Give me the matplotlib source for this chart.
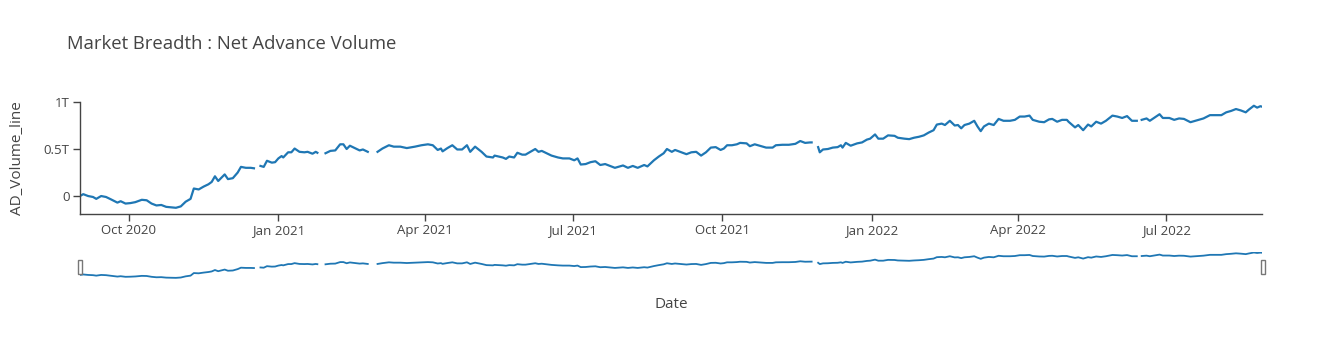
import numpy as np
import pandas as pd
import matplotlib
matplotlib.use("Agg")
import matplotlib.pyplot as plt
import matplotlib.dates as mdates
from matplotlib.patches import Rectangle
from matplotlib.ticker import FuncFormatter

plt.rcParams['font.family'] = ['Open Sans', 'DejaVu Sans']

# values, in trillions (nan = missing day -> gap in line)
dates = [
    '2020-09-01', '2020-09-03', '2020-09-06', '2020-09-09', '2020-09-11', '2020-09-14',
    '2020-09-17', '2020-09-20', '2020-09-24', '2020-09-26', '2020-09-29', '2020-10-02',
    '2020-10-05', '2020-10-09', '2020-10-12', '2020-10-15', '2020-10-18', '2020-10-21',
    '2020-10-24', '2020-10-27', '2020-10-30', '2020-11-02', '2020-11-05', '2020-11-08',
    '2020-11-10', '2020-11-13', '2020-11-16', '2020-11-19', '2020-11-21', '2020-11-23',
    '2020-11-25', '2020-11-29', '2020-12-01', '2020-12-04', '2020-12-07', '2020-12-09',
    '2020-12-12', '2020-12-15', '2020-12-17', '2020-12-19', '2020-12-21', '2020-12-23',
    '2020-12-25', '2020-12-28', '2020-12-30', '2021-01-01', '2021-01-03', '2021-01-04',
    '2021-01-07', '2021-01-09', '2021-01-11', '2021-01-14', '2021-01-17', '2021-01-19',
    '2021-01-22', '2021-01-24', '2021-01-25', '2021-01-28', '2021-01-30', '2021-02-02',
    '2021-02-05', '2021-02-08', '2021-02-10', '2021-02-12', '2021-02-14', '2021-02-17',
    '2021-02-20', '2021-02-22', '2021-02-25', '2021-03-01', '2021-03-03', '2021-03-06',
    '2021-03-10', '2021-03-13', '2021-03-17', '2021-03-21', '2021-03-26', '2021-03-30',
    '2021-04-03', '2021-04-06', '2021-04-09', '2021-04-11', '2021-04-12', '2021-04-15',
    '2021-04-18', '2021-04-21', '2021-04-24', '2021-04-27', '2021-04-29', '2021-05-02',
    '2021-05-06', '2021-05-09', '2021-05-13', '2021-05-14', '2021-05-19', '2021-05-21',
    '2021-05-23', '2021-05-26', '2021-05-28', '2021-05-31', '2021-06-02', '2021-06-05',
    '2021-06-08', '2021-06-10', '2021-06-12', '2021-06-15', '2021-06-18', '2021-06-22',
    '2021-06-25', '2021-06-29', '2021-07-02', '2021-07-04', '2021-07-06', '2021-07-09',
    '2021-07-12', '2021-07-15', '2021-07-18', '2021-07-21', '2021-07-24', '2021-07-27',
    '2021-08-01', '2021-08-04', '2021-08-07', '2021-08-10', '2021-08-14', '2021-08-16',
    '2021-08-20', '2021-08-23', '2021-08-26', '2021-08-28', '2021-08-31', '2021-09-02',
    '2021-09-06', '2021-09-09', '2021-09-12', '2021-09-15', '2021-09-18', '2021-09-21',
    '2021-09-24', '2021-09-27', '2021-09-30', '2021-10-02', '2021-10-04', '2021-10-07',
    '2021-10-10', '2021-10-12', '2021-10-16', '2021-10-18', '2021-10-21', '2021-10-24',
    '2021-10-28', '2021-11-01', '2021-11-03', '2021-11-07', '2021-11-11', '2021-11-15',
    '2021-11-18', '2021-11-21', '2021-11-24', '2021-11-25', '2021-11-27', '2021-11-29',
    '2021-11-30', '2021-12-02', '2021-12-05', '2021-12-08', '2021-12-11', '2021-12-13',
    '2021-12-14', '2021-12-16', '2021-12-19', '2021-12-23', '2021-12-26', '2021-12-29',
    '2021-12-31', '2022-01-03', '2022-01-05', '2022-01-08', '2022-01-11', '2022-01-15',
    '2022-01-17', '2022-01-21', '2022-01-24', '2022-01-27', '2022-01-30', '2022-02-02',
    '2022-02-05', '2022-02-08', '2022-02-10', '2022-02-13', '2022-02-15', '2022-02-18',
    '2022-02-21', '2022-02-23', '2022-02-25', '2022-02-27', '2022-03-02', '2022-03-05',
    '2022-03-07', '2022-03-09', '2022-03-11', '2022-03-14', '2022-03-17', '2022-03-20',
    '2022-03-23', '2022-03-27', '2022-03-30', '2022-04-02', '2022-04-05', '2022-04-08',
    '2022-04-10', '2022-04-14', '2022-04-17', '2022-04-20', '2022-04-22', '2022-04-25',
    '2022-04-28', '2022-05-01', '2022-05-02', '2022-05-06', '2022-05-08', '2022-05-11',
    '2022-05-14', '2022-05-16', '2022-05-19', '2022-05-22', '2022-05-25', '2022-05-29',
    '2022-06-01', '2022-06-04', '2022-06-07', '2022-06-10', '2022-06-13', '2022-06-15',
    '2022-06-16', '2022-06-19', '2022-06-21', '2022-06-27', '2022-06-29', '2022-07-03',
    '2022-07-06', '2022-07-09', '2022-07-12', '2022-07-16', '2022-07-19', '2022-07-21',
    '2022-07-24', '2022-07-28', '2022-08-04', '2022-08-07', '2022-08-10', '2022-08-13',
    '2022-08-16', '2022-08-19', '2022-08-21', '2022-08-24', '2022-08-26', '2022-08-28',
    '2022-08-29',
]
ad_volume_line = [
    0.00, 0.02, 0.00, -0.01, -0.03, 0.00,
    -0.01, -0.035, -0.07, -0.055, -0.08, -0.075,
    -0.065, -0.04, -0.045, -0.08, -0.10, -0.095,
    -0.115, -0.12, -0.125, -0.11, -0.06, -0.03,
    0.08, 0.07, 0.10, 0.125, 0.15, 0.21,
    0.16, 0.23, 0.18, 0.19, 0.25, 0.31,
    0.30, 0.30, 0.295, np.nan, 0.32, 0.31,
    0.375, 0.355, 0.36, 0.40, 0.425, 0.41,
    0.465, 0.465, 0.505, 0.47, 0.465, 0.47,
    0.45, 0.47, 0.46, np.nan, 0.455, 0.48,
    0.485, 0.55, 0.55, 0.50, 0.535, 0.51,
    0.485, 0.495, 0.47, np.nan, 0.47, 0.505,
    0.54, 0.525, 0.525, 0.51, 0.525, 0.54,
    0.55, 0.54, 0.49, 0.505, 0.475, 0.51,
    0.54, 0.495, 0.495, 0.54, 0.47, 0.525,
    0.47, 0.42, 0.41, 0.43, 0.41, 0.395,
    0.42, 0.41, 0.46, 0.44, 0.44, 0.47,
    0.50, 0.47, 0.48, 0.455, 0.43, 0.41,
    0.40, 0.40, 0.38, 0.40, 0.335, 0.34,
    0.36, 0.37, 0.33, 0.34, 0.32, 0.30,
    0.325, 0.30, 0.32, 0.30, 0.33, 0.315,
    0.38, 0.42, 0.455, 0.50, 0.47, 0.49,
    0.465, 0.445, 0.465, 0.47, 0.43, 0.465,
    0.515, 0.52, 0.49, 0.505, 0.54, 0.54,
    0.55, 0.565, 0.56, 0.53, 0.55, 0.535,
    0.515, 0.515, 0.54, 0.545, 0.545, 0.555,
    0.585, 0.565, 0.57, 0.57, np.nan, 0.52,
    0.465, 0.495, 0.50, 0.515, 0.52, 0.54,
    0.515, 0.565, 0.535, 0.56, 0.57, 0.60,
    0.61, 0.655, 0.61, 0.61, 0.645, 0.64,
    0.62, 0.61, 0.605, 0.62, 0.63, 0.645,
    0.675, 0.70, 0.76, 0.77, 0.755, 0.80,
    0.75, 0.755, 0.72, 0.755, 0.77, 0.80,
    0.74, 0.69, 0.74, 0.77, 0.755, 0.82,
    0.80, 0.80, 0.81, 0.845, 0.845, 0.855,
    0.81, 0.79, 0.785, 0.815, 0.82, 0.79,
    0.81, 0.81, 0.79, 0.73, 0.755, 0.70,
    0.76, 0.74, 0.79, 0.77, 0.80, 0.855,
    0.845, 0.83, 0.85, 0.80, 0.80, np.nan,
    0.81, 0.825, 0.80, 0.87, 0.83, 0.83,
    0.81, 0.825, 0.82, 0.785, 0.80, 0.81,
    0.825, 0.86, 0.86, 0.89, 0.905, 0.925,
    0.91, 0.89, 0.92, 0.96, 0.94, 0.955,
    0.95,
]

x = pd.to_datetime(dates)
y = np.array(ad_volume_line, dtype=float) * 1e12

W, H = 1342, 360
fig = plt.figure(figsize=(W / 100, H / 100), dpi=100)

line_c = '#1f77b4'
txt_c = '#444444'

# main plot
ax = fig.add_axes([80 / W, (H - 214) / H, 1182 / W, 112.3 / H])
ax.plot(x, y, color=line_c, lw=1.6)
ax.set_xlim(x.min(), x.max())
ax.set_ylim(-0.191e12, 1.003e12)
ax.set_yticks([0, 0.5e12, 1e12])
ax.yaxis.set_major_formatter(FuncFormatter(lambda v, p: '0' if v == 0 else f'{v / 1e12:g}T'))
ax.xaxis.set_major_locator(mdates.MonthLocator(bymonth=[1, 4, 7, 10]))
ax.xaxis.set_major_formatter(mdates.DateFormatter('%b %Y'))
for s in ['top', 'right']:
    ax.spines[s].set_visible(False)
for s in ['left', 'bottom']:
    ax.spines[s].set_color(txt_c)
    ax.spines[s].set_linewidth(1)
ax.tick_params(labelsize=9.5, colors=txt_c, length=5, width=1, pad=2.5)

# range slider
rs = fig.add_axes([80 / W, (H - 279.4) / H, 1182 / W, 27.9 / H])
rs.plot(x, y, color=line_c, lw=1.3)
rs.set_xlim(x.min(), x.max())
rs.set_ylim(-0.191e12, 1.003e12)
rs.axis('off')
for hx in (77.5, 1260.5):
    fig.patches.append(Rectangle((hx / W, (H - 274) / H), 4 / W, 14 / H,
                                 transform=fig.transFigure, facecolor='white',
                                 edgecolor='#777777', lw=1))

fig.text(67 / W, 1 - 44 / H, 'Market Breadth : Net Advance Volume',
         fontsize=13.3, color=txt_c, va='center', ha='left')
fig.text(18 / W, 1 - 158 / H, 'AD_Volume_line', fontsize=11, color=txt_c,
         rotation=90, va='center', ha='center')
fig.text(671 / W, 1 - 305 / H, 'Date', fontsize=11, color=txt_c,
         va='center', ha='center')

fig.savefig('out.png', dpi=100)
